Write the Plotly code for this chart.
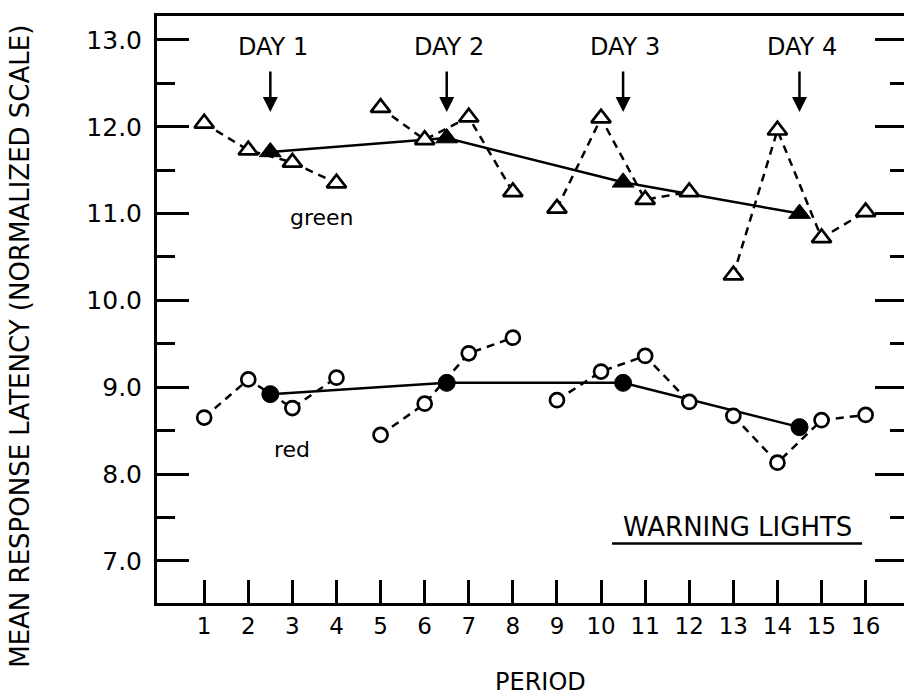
import plotly.graph_objects as go

# ---------------- data ----------------
periods = list(range(1, 17))
period_labels = [str(p) for p in periods]
green_vals = [12.04, 11.73, 11.59, 11.35, 12.22, 11.85, 12.11, 11.25,
              11.06, 12.10, 11.16, 11.25, 10.29, 11.96, 10.72, 11.02]
red_vals = [8.65, 9.09, 8.76, 9.11, 8.45, 8.81, 9.39, 9.57,
            8.85, 9.18, 9.36, 8.83, 8.67, 8.13, 8.62, 8.68]
day_x = [2.5, 6.5, 10.5, 14.5]
day_labels = ["DAY 1", "DAY 2", "DAY 3", "DAY 4"]
green_day_means = [11.71, 11.87, 11.36, 11.00]
red_day_means = [8.92, 9.05, 9.05, 8.54]
y_ticks = [7, 8, 9, 10, 11, 12, 13]
y_tick_labels = ["7.0", "8.0", "9.0", "10.0", "11.0", "12.0", "13.0"]
periods_per_day = 4

FONT = "DejaVu Sans"
INK = "black"


def gapped(xs, ys, n):
    gx, gy = [], []
    for i, (a, b) in enumerate(zip(xs, ys)):
        gx.append(a)
        gy.append(b)
        if (i + 1) % n == 0 and i + 1 < len(xs):
            gx.append(None)
            gy.append(None)
    return gx, gy


fig = go.Figure()

for vals in (green_vals, red_vals):
    gx, gy = gapped(periods, vals, periods_per_day)
    fig.add_trace(go.Scatter(x=gx, y=gy, mode="lines",
                             line=dict(color=INK, width=2.5, dash="8px,6px"),
                             hoverinfo="skip", showlegend=False))

for vals in (green_day_means, red_day_means):
    fig.add_trace(go.Scatter(x=day_x, y=vals, mode="lines",
                             line=dict(color=INK, width=2.5),
                             hoverinfo="skip", showlegend=False))

fig.add_trace(go.Scatter(x=periods, y=green_vals, mode="markers",
                         marker=dict(symbol="triangle-up", size=17, color="white",
                                     line=dict(color=INK, width=2.7)),
                         showlegend=False))
fig.add_trace(go.Scatter(x=periods, y=red_vals, mode="markers",
                         marker=dict(symbol="circle", size=14, color="white",
                                     line=dict(color=INK, width=2.7)),
                         showlegend=False))
fig.add_trace(go.Scatter(x=day_x, y=green_day_means, mode="markers",
                         marker=dict(symbol="triangle-up", size=19, color=INK,
                                     line=dict(color=INK, width=1)),
                         showlegend=False))
fig.add_trace(go.Scatter(x=day_x, y=red_day_means, mode="markers",
                         marker=dict(symbol="circle", size=17, color=INK,
                                     line=dict(color=INK, width=1)),
                         showlegend=False))
# carrier trace for right-hand tick axis
fig.add_trace(go.Scatter(x=[None], y=[None], yaxis="y2", showlegend=False,
                         hoverinfo="skip"))

annotations = []
for dx, lab in zip(day_x, day_labels):
    annotations.append(dict(x=dx, y=12.17, xref="x", yref="y", text="",
                            showarrow=True, ax=0, ay=-42, arrowhead=2,
                            arrowsize=1.2, arrowwidth=2.5, arrowcolor=INK))
    annotations.append(dict(x=dx + 0.05, y=12.92, xref="x", yref="y", text=lab,
                            showarrow=False, xanchor="center", yanchor="middle",
                            font=dict(family=FONT, size=24, color=INK)))

annotations += [
    dict(x=3.67, y=10.95, xref="x", yref="y", text="green", showarrow=False,
         xanchor="center", yanchor="middle",
         font=dict(family=FONT, size=22, color=INK)),
    dict(x=2.99, y=8.28, xref="x", yref="y", text="red", showarrow=False,
         xanchor="center", yanchor="middle",
         font=dict(family=FONT, size=22, color=INK)),
    dict(x=13.1, y=7.39, xref="x", yref="y", text="WARNING LIGHTS",
         showarrow=False, xanchor="center", yanchor="middle",
         font=dict(family=FONT, size=26, color=INK)),
    dict(x=0.513, y=-0.1346, xref="paper", yref="paper", text="PERIOD",
         showarrow=False, xanchor="center", yanchor="middle",
         font=dict(family=FONT, size=24, color=INK)),
    dict(x=-0.183, y=0.437, xref="paper", yref="paper",
         text="MEAN RESPONSE LATENCY (NORMALIZED SCALE)", textangle=-90,
         showarrow=False, xanchor="center", yanchor="middle",
         font=dict(family=FONT, size=26, color=INK)),
]

fig.update_layout(
    width=904, height=696,
    margin=dict(l=157, r=0, t=16, b=93),
    paper_bgcolor="white", plot_bgcolor="white",
    font=dict(family=FONT, color=INK),
    showlegend=False,
    annotations=annotations,
    shapes=[dict(type="line", xref="x", yref="y", x0=10.25, x1=15.92,
                 y0=7.2, y1=7.2, line=dict(color=INK, width=2.5))],
    xaxis=dict(range=[-0.07, 16.87], tickvals=periods, ticktext=period_labels,
               ticks="inside", ticklen=23, tickwidth=2.5, tickcolor=INK,
               showline=True, linewidth=3, linecolor=INK, mirror=True,
               showgrid=False, zeroline=False,
               tickfont=dict(family=FONT, size=23, color=INK)),
    yaxis=dict(range=[6.514, 13.276], tickvals=y_ticks, ticktext=y_tick_labels,
               ticks="inside", ticklen=32, tickwidth=2.5, tickcolor=INK,
               ticklabelstandoff=7,
               minor=dict(dtick=0.5, tick0=0, ticks="inside", ticklen=18,
                          tickwidth=2.5, tickcolor=INK),
               showline=True, linewidth=3, linecolor=INK,
               showgrid=False, zeroline=False,
               tickfont=dict(family=FONT, size=25, color=INK)),
    yaxis2=dict(range=[6.514, 13.276], overlaying="y", side="right",
                anchor="x", tickvals=y_ticks, showticklabels=False,
                ticks="inside", ticklen=29, tickwidth=2.5, tickcolor=INK,
                minor=dict(dtick=0.5, tick0=0, ticks="inside", ticklen=14,
                           tickwidth=2.5, tickcolor=INK),
                showline=False, showgrid=False, zeroline=False),
)

fig.write_html("out.html")
